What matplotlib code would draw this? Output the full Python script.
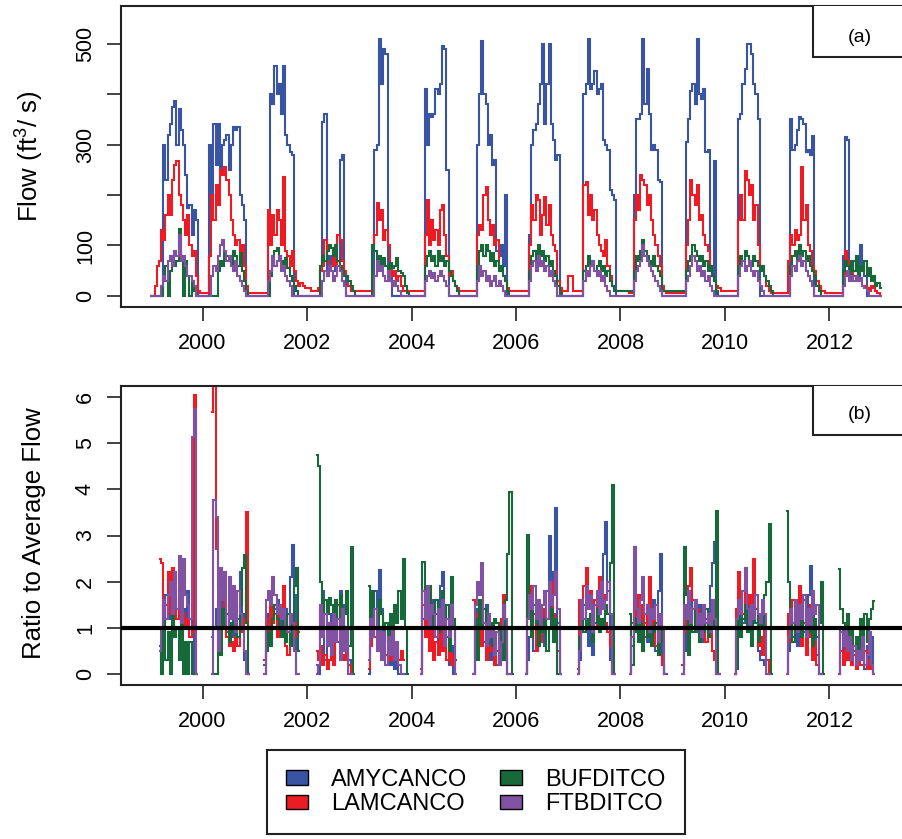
import numpy as np
import matplotlib
matplotlib.use('Agg')
import matplotlib.pyplot as plt
from matplotlib.patches import Patch, Rectangle

plt.rcParams['font.family'] = ['Liberation Sans', 'DejaVu Sans']
plt.rcParams['mathtext.fontset'] = 'custom'
plt.rcParams['mathtext.rm'] = 'Liberation Sans'
plt.rcParams['mathtext.default'] = 'regular'

NA = np.nan
first_year = 1999
steps_per_year = 24   # semi-monthly values

stations = ['AMYCANCO', 'LAMCANCO', 'BUFDITCO', 'FTBDITCO']
colors = ['#3A54A4', '#ED1C24', '#17693A', '#8152A2']

# flow (ft3/s), one row per year, 24 semi-monthly values per row
amy_flow = [
    [0, 0, 0, 0, 0, 0, 300, 230, 320, 340, 375, 387, 300, 370, 330, 300, 240, 175, 180, 120, 170, 150, 0, 0],
    [0, 0, 0, 300, 150, 340, 260, 340, 250, 300, 310, 320, 250, 300, 335, 330, 335, 200, 180, 150, 0, 0, 0, 0],
    [0, 0, 0, 0, 0, 0, 150, 400, 380, 456, 400, 420, 360, 456, 320, 300, 285, 280, 0, 0, 0, 0, 0, 0],
    [0, 0, 0, 0, 0, 0, 60, 345, 360, 40, 80, 60, 90, 50, 70, 270, 280, 40, 0, 0, 0, 0, 0, 0],
    [0, 0, 0, 0, 0, 0, 0, 290, 300, 510, 420, 490, 480, 60, 40, 0, 0, 0, 0, 0, 0, 0, 0, 0],
    [0, 0, 0, 0, 0, 0, 410, 300, 360, 355, 360, 410, 400, 420, 495, 490, 250, 0, 0, 0, 0, 0, 0, 0],
    [0, 0, 0, 0, 0, 0, 300, 400, 506, 400, 380, 300, 320, 260, 270, 90, 80, 100, 60, 200, 0, 0, 0, 0],
    [0, 0, 0, 0, 0, 0, 120, 300, 330, 340, 380, 420, 500, 340, 420, 500, 340, 310, 270, 280, 0, 0, 0, 0],
    [0, 0, 0, 0, 0, 0, 0, 400, 420, 510, 410, 420, 446, 400, 410, 420, 310, 300, 290, 210, 200, 190, 0, 0],
    [0, 0, 0, 0, 0, 0, 200, 351, 350, 360, 510, 380, 450, 360, 290, 300, 290, 230, 226, 0, 0, 0, 0, 0],
    [0, 0, 0, 0, 0, 0, 305, 350, 406, 420, 380, 510, 400, 390, 410, 286, 290, 50, 40, 267, 0, 0, 0, 0],
    [0, 0, 0, 0, 0, 0, 351, 360, 420, 450, 500, 500, 480, 420, 400, 350, 0, 0, 0, 0, 0, 0, 0, 0],
    [0, 0, 0, 0, 0, 0, 350, 290, 300, 330, 355, 350, 340, 286, 290, 280, 317, 0, 0, 0, 0, 0, 0, 0],
    [0, 0, 0, 0, 0, 0, 80, 315, 310, 60, 40, 70, 50, 40, 100, 60, 40, 0, 0, 0, 0, 0, 0, 0],
]
lam_flow = [
    [0, 0, 20, 60, 70, 130, 110, 160, 200, 160, 230, 260, 268, 200, 180, 150, 120, 160, 100, 80, 90, 40, 10, 5],
    [5, 5, 5, 80, 200, 150, 220, 180, 250, 240, 255, 230, 200, 150, 120, 100, 110, 70, 100, 60, 20, 5, 5, 5],
    [5, 5, 5, 5, 5, 5, 170, 100, 160, 120, 170, 150, 100, 236, 90, 80, 60, 90, 50, 30, 20, 25, 20, 15],
    [15, 15, 10, 10, 10, 15, 50, 60, 110, 70, 50, 60, 80, 60, 120, 110, 70, 50, 40, 20, 10, 10, 10, 10],
    [10, 10, 10, 10, 10, 10, 100, 120, 185, 150, 170, 110, 130, 100, 60, 40, 50, 30, 40, 20, 10, 10, 10, 10],
    [10, 10, 10, 10, 10, 10, 120, 190, 100, 150, 110, 130, 100, 170, 180, 120, 80, 40, 50, 30, 20, 15, 10, 10],
    [10, 10, 10, 10, 10, 10, 120, 140, 130, 200, 216, 150, 120, 140, 100, 110, 60, 50, 40, 30, 15, 10, 10, 10],
    [10, 10, 10, 10, 10, 10, 100, 180, 150, 200, 190, 120, 160, 197, 140, 180, 120, 100, 90, 30, 15, 10, 10, 10],
    [40, 40, 10, 10, 10, 10, 10, 220, 226, 160, 200, 150, 170, 120, 100, 90, 80, 110, 60, 40, 20, 10, 10, 10],
    [10, 10, 10, 10, 5, 5, 150, 200, 170, 240, 230, 220, 180, 200, 150, 120, 100, 80, 60, 20, 10, 5, 5, 5],
    [5, 5, 5, 5, 5, 5, 100, 150, 230, 200, 180, 220, 150, 160, 120, 100, 90, 60, 40, 30, 20, 15, 10, 10],
    [10, 10, 10, 10, 10, 10, 150, 200, 150, 248, 230, 200, 220, 150, 180, 100, 60, 50, 40, 20, 10, 5, 5, 5],
    [5, 5, 5, 5, 5, 70, 120, 100, 130, 110, 120, 256, 150, 180, 100, 90, 60, 50, 30, 20, 10, 10, 5, 5],
    [5, 5, 5, 5, 5, 5, 40, 90, 70, 60, 50, 40, 30, 40, 30, 20, 20, 15, 10, 20, 15, 10, 5, 0],
]
buf_flow = [
    [0, 0, 0, 0, 0, 0, 30, 60, 0, 50, 80, 60, 70, 133, 80, 0, 70, 40, 0, 30, 10, 0, 0, 0],
    [0, 0, 0, 0, 0, 0, 0, 50, 70, 60, 90, 80, 70, 60, 90, 80, 60, 85, 50, 30, 10, 0, 0, 0],
    [0, 0, 0, 0, 0, 0, 0, 40, 60, 90, 95, 80, 70, 60, 75, 55, 40, 30, 20, 10, 0, 0, 0, 0],
    [0, 0, 0, 0, 0, 0, 60, 80, 70, 90, 100, 95, 80, 100, 70, 60, 50, 40, 40, 30, 20, 10, 0, 0],
    [0, 0, 0, 0, 0, 0, 100, 90, 70, 80, 60, 75, 60, 50, 65, 55, 60, 75, 50, 45, 40, 20, 5, 0],
    [0, 0, 0, 0, 0, 0, 60, 80, 90, 70, 80, 60, 90, 70, 80, 60, 70, 50, 40, 30, 20, 10, 0, 0],
    [0, 0, 0, 0, 0, 0, 60, 90, 100, 80, 100, 90, 70, 85, 60, 70, 50, 60, 40, 30, 10, 0, 0, 0],
    [0, 0, 0, 0, 0, 0, 50, 80, 90, 70, 100, 80, 90, 70, 80, 60, 70, 50, 40, 20, 5, 0, 0, 0],
    [0, 0, 0, 0, 0, 0, 0, 50, 60, 80, 60, 70, 50, 60, 70, 50, 60, 40, 50, 30, 20, 10, 10, 10],
    [10, 10, 10, 10, 10, 10, 50, 80, 70, 90, 110, 90, 80, 70, 60, 80, 60, 50, 40, 10, 10, 10, 10, 10],
    [10, 10, 10, 10, 10, 10, 50, 70, 80, 100, 90, 80, 70, 80, 60, 70, 50, 60, 40, 30, 10, 0, 0, 0],
    [0, 0, 0, 0, 0, 0, 60, 80, 70, 90, 80, 70, 60, 80, 70, 60, 50, 60, 40, 30, 20, 10, 0, 0],
    [0, 0, 0, 0, 0, 0, 60, 80, 90, 70, 100, 80, 90, 70, 80, 60, 50, 40, 20, 10, 0, 0, 0, 0],
    [0, 0, 0, 0, 0, 0, 50, 70, 60, 40, 70, 50, 80, 40, 60, 50, 70, 40, 55, 30, 40, 20, 25, 15],
]
ftb_flow = [
    [0, 0, 0, 0, 0, 20, 40, 30, 70, 80, 60, 90, 80, 120, 70, 80, 60, 40, 40, 30, 20, 0, 0, 0],
    [0, 0, 0, 0, 40, 60, 50, 80, 100, 110, 90, 70, 80, 60, 50, 70, 40, 30, 20, 10, 0, 0, 0, 0],
    [0, 0, 0, 0, 0, 0, 30, 50, 80, 60, 70, 80, 50, 60, 40, 30, 20, 0, 0, 0, 0, 0, 0, 0],
    [0, 0, 0, 0, 0, 0, 0, 30, 50, 40, 60, 50, 30, 40, 60, 50, 30, 20, 0, 0, 0, 0, 0, 0],
    [0, 0, 0, 0, 0, 0, 0, 40, 70, 50, 60, 40, 30, 50, 30, 20, 30, 20, 10, 0, 0, 0, 0, 0],
    [0, 0, 0, 0, 0, 0, 30, 40, 50, 35, 45, 30, 40, 50, 40, 30, 20, 0, 0, 0, 0, 0, 0, 0],
    [0, 0, 0, 0, 0, 0, 30, 60, 40, 50, 30, 40, 20, 30, 40, 20, 30, 20, 10, 0, 0, 0, 0, 0],
    [0, 0, 0, 0, 0, 0, 30, 60, 70, 50, 80, 60, 70, 50, 60, 40, 50, 30, 20, 0, 0, 0, 0, 0],
    [0, 0, 0, 0, 0, 0, 0, 30, 50, 40, 60, 70, 50, 40, 50, 30, 40, 20, 10, 0, 0, 0, 0, 0],
    [0, 0, 0, 0, 0, 0, 30, 50, 60, 70, 100, 80, 70, 60, 50, 40, 30, 20, 10, 0, 0, 0, 0, 0],
    [0, 0, 0, 0, 0, 0, 30, 40, 60, 80, 70, 50, 60, 40, 50, 30, 40, 20, 10, 0, 0, 0, 0, 0],
    [0, 0, 0, 0, 0, 0, 40, 60, 70, 50, 60, 70, 50, 40, 50, 30, 20, 10, 0, 0, 0, 0, 0, 0],
    [0, 0, 0, 0, 0, 0, 40, 60, 50, 70, 80, 60, 70, 50, 40, 30, 20, 0, 0, 0, 0, 0, 0, 0],
    [0, 0, 0, 0, 0, 0, 20, 40, 50, 30, 40, 30, 40, 30, 35, 20, 15, 10, 0, 0, 0, 0, 0, 0],
]

# ratio to average flow, irrigation season only (NA outside it)
amy_ratio = [
    [NA, NA, NA, NA, 0.6, 0.3, 1.1, 1.7, 1.2, 1.4, 0.9, 1.6, 1.2, 1.8, 1.3, 1.4, 1.1, 1.8, 1.2, 0.9, 0, 0, NA, NA],
    [NA, NA, NA, NA, 0.8, 1.0, 1.4, 1.1, 1.7, 1.3, 1.5, 0.9, 1.1, 0.8, 1.6, 0.7, 1.2, 2.2, 1.3, 0.3, 0, 0, NA, NA],
    [NA, NA, NA, NA, 0.2, 1.0, 1.3, 0.8, 1.5, 1.4, 1.6, 0.9, 1.2, 1.5, 1.4, 1.0, 2.1, 2.8, 1.7, 0, 0, NA, NA, NA],
    [NA, NA, NA, NA, 0.2, 0, 1.4, 1.8, 0.3, 1.1, 0.6, 1.3, 0.4, 1.2, 0.7, 1.8, 1.5, 0.5, 0.9, 0.3, 0, NA, NA, NA],
    [NA, NA, NA, NA, 0, 0.9, 1.5, 1.8, 1.2, 2.25, 1.4, 0.7, 1.0, 0.4, 0.2, 0.6, 0.1, 0.3, 0, 0, 0, 0, NA, NA],
    [NA, NA, NA, NA, 0, 1.2, 1.7, 0.9, 1.4, 1.1, 1.6, 1.3, 0.7, 1.9, 2.2, 1.4, 0.8, 0.2, 0.6, 0, 0, NA, NA, NA],
    [NA, NA, NA, NA, 0, 1.0, 1.4, 1.1, 1.3, 0.7, 1.5, 0.9, 0.3, 0.8, 0.5, 0.2, 0.8, 0.4, 1.0, 0.5, 0, 0, NA, NA],
    [NA, NA, NA, NA, 0, 0.3, 0.8, 1.2, 0.5, 1.3, 0.9, 1.5, 1.1, 0.6, 1.8, 3.0, 1.4, 2.2, 3.6, 1.1, 0, NA, NA, NA],
    [NA, NA, NA, NA, 0, 0.3, 0.9, 1.5, 1.1, 0.6, 1.3, 0.4, 1.6, 1.2, 2.0, 1.5, 2.6, 3.3, 1.8, 0.3, 0, 0, NA, NA],
    [NA, NA, NA, NA, 0, 0.6, 1.0, 1.5, 1.2, 0.8, 1.4, 1.1, 0.7, 1.3, 0.9, 1.6, 0.5, 1.8, 2.6, 0.2, 0, 0, NA, NA],
    [NA, NA, NA, NA, 0, 0.5, 1.0, 1.4, 1.2, 1.6, 1.3, 0.9, 1.5, 1.1, 0.7, 1.2, 1.0, 1.9, 2.4, 2.85, 0, 0, NA, NA],
    [NA, NA, NA, NA, 0, 0.8, 1.3, 1.6, 1.1, 1.8, 1.3, 1.5, 0.9, 1.4, 1.1, 0.5, 0.3, 0.3, 0.2, 0.3, 0, NA, NA, NA],
    [NA, NA, NA, NA, 0, 0.5, 1.1, 0.8, 1.3, 0.6, 1.0, 1.4, 0.9, 1.2, 1.7, 2.33, 1.5, 1.0, 0.4, 0, 0, NA, NA, NA],
    [NA, NA, NA, NA, 0, 1.0, 0.4, 0.8, 0.3, 0.6, 0.2, 0.5, 0.7, 0.2, 0.4, 0.9, 0.1, 0.6, 0.3, 0.8, 0, NA, NA, NA],
]
lam_ratio = [
    [NA, NA, NA, NA, 2.5, 2.4, 1.2, 1.5, 2.2, 1.3, 2.3, 1.6, 1.2, 1.4, 1.1, 1.3, 1.0, 1.2, 0.8, 0.9, 6.05, 0, NA, NA],
    [NA, NA, NA, NA, 5.68, 6.4, 2.7, 1.9, 2.0, 1.6, 1.2, 0.8, 0.6, 0.7, 0.5, 0.8, 0.6, 1.0, 0.9, 1.2, 3.5, 0, NA, NA],
    [NA, NA, NA, NA, 0.3, 1.2, 0.9, 1.5, 1.1, 1.3, 0.8, 1.4, 1.2, 1.9, 0.6, 0.4, 0.7, 1.0, 0.8, 1.1, 0.9, NA, NA, NA],
    [NA, NA, NA, NA, 0.5, 0.3, 0.6, 0.2, 0.4, 0.1, 0.3, 0.5, 0.2, 0.8, 1.5, 0.6, 0.4, 0.3, 0.5, 0.2, 0, NA, NA, NA],
    [NA, NA, NA, NA, 0.1, 0.6, 1.1, 0.8, 1.3, 0.5, 0.9, 0.6, 0.4, 0.3, 0.5, 0.3, 0.3, 0.4, 0.3, 0.5, 0.3, NA, NA, NA],
    [NA, NA, NA, NA, 0.1, 1.5, 0.8, 1.3, 0.5, 1.0, 0.3, 0.7, 0.4, 1.2, 0.5, 0.9, 0.3, 0.6, 0.2, 0.4, 0, NA, NA, NA],
    [NA, NA, NA, NA, 1.6, 1.3, 0.9, 1.2, 0.6, 1.0, 0.3, 0.6, 0.5, 0.8, 0.2, 0.5, 0.6, 1.2, 1.7, 0.9, 0, 0, NA, NA],
    [NA, NA, NA, NA, 0, 1.6, 1.9, 0.9, 1.3, 0.5, 1.1, 0.7, 1.4, 0.9, 1.2, 1.5, 2.0, 1.3, 1.0, 0.5, 0, NA, NA, NA],
    [NA, NA, NA, NA, 0.1, 1.6, 1.3, 1.9, 2.3, 1.5, 1.8, 1.2, 1.6, 1.0, 2.1, 1.4, 1.7, 1.1, 0.9, 0.6, 0, 0, NA, NA],
    [NA, NA, NA, NA, 0, 1.1, 1.4, 0.9, 1.7, 1.2, 1.5, 0.8, 1.3, 2.1, 1.0, 1.4, 0.6, 1.1, 0.4, 0.2, 0, NA, NA, NA],
    [NA, NA, NA, NA, 0.2, 0.9, 1.5, 1.9, 2.3, 1.6, 1.1, 1.4, 0.8, 1.3, 1.0, 0.7, 1.2, 0.9, 0.5, 0.3, 0, 0, NA, NA],
    [NA, NA, NA, NA, 0, 1.4, 2.2, 1.6, 1.3, 1.9, 1.5, 1.7, 1.2, 2.5, 1.4, 0.6, 0.8, 0.4, 1.0, 0.3, 0, NA, NA, NA],
    [NA, NA, NA, NA, 0, 1.3, 0.7, 1.6, 0.9, 1.2, 1.9, 0.6, 1.1, 0.4, 0.8, 1.5, 0.3, 0.7, 0.2, 0, 0, NA, NA, NA],
    [NA, NA, NA, NA, 0, 0.5, 0.2, 0.7, 0.3, 0.5, 0.2, 0.4, 0.1, 0.3, 0.2, 0.2, 0.5, 0.1, 0.3, 0.1, 0, NA, NA, NA],
]
buf_ratio = [
    [NA, NA, NA, NA, 0.5, 0, 1.5, 0.3, 0.9, 0, 1.3, 0.8, 1.0, 0.3, 1.3, 0, 0.7, 0, 0.7, 0, 0, 0, NA, NA],
    [NA, NA, NA, NA, 0, 0, 0, 1.0, 0.4, 1.4, 1.0, 1.3, 0.7, 1.1, 0.9, 1.2, 0.8, 1.5, 2.3, 2.57, 1.1, 0, NA, NA],
    [NA, NA, NA, NA, 0, 0.5, 0.9, 0.6, 1.2, 1.5, 1.2, 1.0, 0.8, 1.4, 0.7, 1.3, 0.6, 1.1, 1.9, 2.3, 0.5, NA, NA, NA],
    [NA, NA, NA, NA, 4.75, 4.5, 2.0, 1.0, 1.6, 1.3, 1.65, 1.5, 0.9, 1.6, 1.2, 1.7, 1.0, 1.3, 1.8, 0.6, 2.74, 0, NA, NA],
    [NA, NA, NA, NA, 1.9, 1.2, 1.8, 1.4, 1.0, 1.6, 1.3, 0.9, 1.1, 0.7, 1.3, 0.8, 1.5, 1.1, 1.8, 1.2, 2.48, 1.0, 0, NA],
    [NA, NA, NA, NA, 0, 2.43, 1.6, 1.2, 1.9, 1.4, 1.0, 1.6, 0.9, 1.3, 1.8, 1.1, 1.5, 0.5, 2.1, 1.2, 0.3, NA, NA, NA],
    [NA, NA, NA, NA, 0, 1.2, 0.3, 1.6, 1.0, 1.4, 0.8, 1.2, 1.1, 0.6, 1.2, 1.1, 0.3, 1.0, 0.3, 1.6, 2.6, 3.95, 0, NA],
    [NA, NA, NA, NA, 0, 3.02, 1.4, 0.8, 1.5, 1.1, 0.6, 1.3, 0.9, 1.2, 0.5, 1.0, 1.4, 0.7, 1.2, 0, 0, NA, NA, NA],
    [NA, NA, NA, NA, 0, 0.8, 1.5, 0.9, 1.2, 1.0, 1.3, 0.7, 1.1, 1.4, 0.9, 1.2, 1.0, 1.5, 1.3, 2.4, 4.1, 0, NA, NA],
    [NA, NA, NA, NA, 1.3, 0.2, 0.9, 1.2, 0.7, 1.1, 0.5, 1.0, 0.8, 1.2, 0.6, 0.9, 1.1, 0.4, 1.0, 0.7, 0, NA, NA, NA],
    [NA, NA, NA, NA, 0, 2.76, 1.7, 0.4, 1.3, 0.9, 1.5, 1.1, 0.7, 1.2, 0.9, 1.4, 0.8, 1.0, 1.2, 1.0, 3.54, 0, NA, NA],
    [NA, NA, NA, NA, 0, 0.1, 1.3, 0.8, 1.2, 1.5, 0.9, 1.3, 0.6, 1.1, 1.4, 0.7, 1.2, 1.0, 1.7, 2.0, 3.24, 0, NA, NA],
    [NA, NA, NA, NA, 3.54, 2.0, 1.2, 0.7, 1.5, 1.0, 1.3, 0.8, 1.6, 1.1, 0.9, 1.4, 0.6, 1.2, 0.8, 1.1, 2.0, 0, NA, NA],
    [NA, NA, NA, NA, 2.28, 1.4, 1.1, 0.9, 1.3, 0.6, 1.0, 0.5, 0.8, 0.4, 1.2, 0.5, 1.3, 0.7, 1.2, 1.4, 1.57, NA, NA, NA],
]
ftb_ratio = [
    [NA, NA, NA, NA, 0.5, 1.0, 1.6, 1.2, 1.7, 2.0, 1.3, 2.2, 1.4, 2.55, 1.1, 2.5, 1.7, 1.5, 1.2, 5.14, 5.75, 0, NA, NA],
    [NA, NA, NA, NA, 0, 3.78, 3.4, 0.5, 2.3, 1.6, 2.2, 1.0, 2.1, 1.2, 1.9, 0.9, 1.8, 1.3, 1.0, 0.5, 0, 0, NA, NA],
    [NA, NA, NA, NA, 0, 1.6, 1.8, 1.5, 2.1, 1.7, 1.3, 1.5, 1.2, 1.4, 1.0, 0.9, 1.3, 1.1, 0.5, 0, 0, NA, NA, NA],
    [NA, NA, NA, NA, 0, 0.2, 1.5, 0.8, 1.3, 0.6, 1.1, 0.4, 1.3, 0.7, 1.2, 0.3, 1.4, 0.5, 1.0, 0, 0, NA, NA, NA],
    [NA, NA, NA, NA, 0.3, 1.2, 0.8, 1.4, 0.5, 1.0, 0.3, 0.9, 0.2, 0.8, 0.4, 1.0, 0.3, 0.7, 0.2, 0, 0, NA, NA, NA],
    [NA, NA, NA, NA, 0, 1.8, 1.2, 1.9, 1.0, 1.5, 1.3, 0.8, 1.4, 1.0, 1.6, 0.6, 1.2, 0.8, 1.5, 1.0, 0, NA, NA, NA],
    [NA, NA, NA, NA, 0, 1.5, 2.0, 1.7, 2.4, 1.1, 0.6, 1.3, 0.8, 1.0, 0.4, 0.9, 0.2, 0.7, 1.5, 1.2, 0, 0, NA, NA],
    [NA, NA, NA, NA, 0, 1.2, 1.7, 1.4, 1.9, 1.2, 1.6, 1.0, 1.5, 1.8, 1.2, 2.0, 1.5, 1.7, 2.2, 1.4, 0, NA, NA, NA],
    [NA, NA, NA, NA, 0, 0.5, 1.6, 1.2, 1.9, 1.4, 1.7, 0.9, 1.5, 1.8, 1.3, 2.0, 1.4, 1.6, 2.0, 1.3, 0, 0, NA, NA],
    [NA, NA, NA, NA, 0, 0.8, 2.76, 1.4, 1.1, 1.6, 2.1, 1.3, 1.5, 0.9, 1.4, 1.2, 1.5, 0.7, 1.3, 1.0, 0, NA, NA, NA],
    [NA, NA, NA, NA, 0, 1.5, 1.2, 1.8, 1.1, 1.4, 1.6, 1.0, 1.3, 0.8, 1.5, 1.1, 1.3, 0.9, 1.6, 1.2, 0, 0, NA, NA],
    [NA, NA, NA, NA, 0, 1.2, 1.6, 1.3, 1.8, 2.3, 1.4, 1.0, 1.5, 1.2, 1.7, 1.3, 1.1, 1.6, 1.3, 0, 0, NA, NA, NA],
    [NA, NA, NA, NA, 0, 0.8, 1.4, 1.1, 1.6, 0.9, 1.5, 1.2, 1.7, 0.8, 1.4, 1.0, 1.8, 1.3, 1.5, 0, 0, NA, NA, NA],
    [NA, NA, NA, NA, 0, 0.9, 0.6, 1.0, 0.5, 0.8, 0.3, 0.6, 0.2, 0.5, 0.3, 0.8, 0.2, 0.4, 0.9, 0.2, 0, NA, NA, NA],
]

flows = [amy_flow, lam_flow, buf_flow, ftb_flow]
ratios = [amy_ratio, lam_ratio, buf_ratio, ftb_ratio]
n_years = len(amy_flow)
edges = first_year + np.arange(n_years * steps_per_year + 1) / steps_per_year

fig = plt.figure(figsize=(9.03, 8.39), dpi=100)
ax_a = fig.add_axes([121 / 903, 1 - 307 / 839, 790 / 903, 301 / 839])
ax_b = fig.add_axes([121 / 903, 1 - 685 / 839, 790 / 903, 299 / 839])

for series, col in zip(flows, colors):
    ax_a.stairs(np.concatenate(series), edges, baseline=None, color=col, lw=1.5)
for series, col in zip(ratios, colors):
    ax_b.stairs(np.concatenate(series).astype(float), edges, baseline=None, color=col, lw=1.5)
ax_b.axhline(1, color='black', lw=3, zorder=5)

ax_a.set_ylim(-22, 575)
ax_b.set_ylim(-0.24, 6.24)
ax_a.set_yticks([0, 100, 200, 300, 400, 500], ['0', '100', '', '300', '', '500'])
ax_b.set_yticks(range(7))

for ax in (ax_a, ax_b):
    ax.set_xlim(1998.44, 2013.56)
    ax.set_xticks(range(2000, 2013, 2))
    ax.tick_params(axis='both', length=10, width=1.2, labelsize=15.5, color='#222222')
    ax.tick_params(axis='x', pad=9)
    ax.tick_params(axis='y', pad=8, labelrotation=90)
    for lbl in ax.get_yticklabels():
        lbl.set_va('center')
    for sp in ax.spines.values():
        sp.set_linewidth(1.5)
        sp.set_color('#222222')

fig.text(30 / 903, 1 - 156 / 839, r'Flow (ft$^3$/ s)', rotation=90,
         ha='center', va='center', fontsize=18.5)
fig.text(34 / 903, 1 - 533 / 839, 'Ratio to Average Flow', rotation=90,
         ha='center', va='center', fontsize=18.5)

# panel tags in boxed corners
for ax, tag, y0, ty in [(ax_a, '(a)', 0.8306, 0.897), (ax_b, '(b)', 0.836, 0.906)]:
    ax.add_patch(Rectangle((0.876, y0), 0.3, 0.3, transform=ax.transAxes,
                           facecolor='white', edgecolor='#222222', lw=1.5, zorder=6))
    ax.text(0.9354, ty, tag, transform=ax.transAxes, ha='center', va='center',
            fontsize=14, zorder=7)

handles = [Patch(facecolor=c, edgecolor='black', lw=1) for c in colors]
leg = fig.legend(handles, stations, ncol=2, loc='center',
                 bbox_to_anchor=(476 / 903, 1 - 792 / 839), fontsize=17,
                 frameon=True, fancybox=False, edgecolor='#222222', framealpha=1,
                 handlelength=0.9, handleheight=0.55, handletextpad=1.0,
                 columnspacing=1.4, labelspacing=0.1, borderpad=0.8)
leg.get_frame().set_linewidth(1.5)

fig.savefig('out.png', dpi=100)
